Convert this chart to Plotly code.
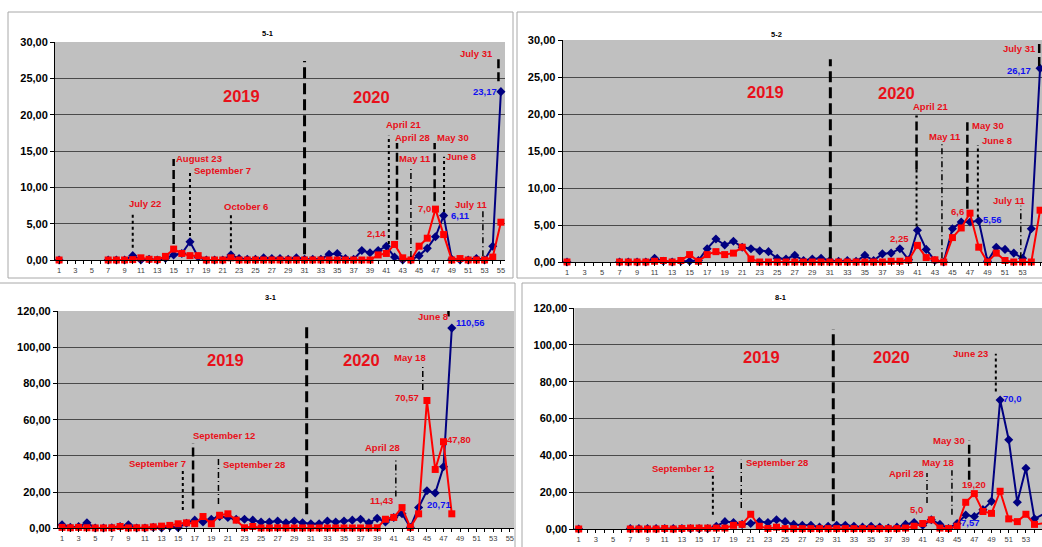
import plotly.graph_objects as go

W, H = 1042, 547
N = None
weeks = list(range(1, 56))
tick_weeks = list(range(1, 56, 2))

# ---- panel 5-1 ----
red_5_1 = [0, N, N, N, N, N, 0, 0, 0, 0.05,
           0.3, 0.1, 0.05, 0.5, 1.5, 0.9, 0.6, 0.6, 0, 0,
           0, 0.3, 0, 0, 0, 0, 0, 0, 0, 0,
           0, 0, 0, 0, 0, 0, 0, 0, 0, 0.7,
           0.9, 2.14, 0.3, 0, 1.9, 3.0, 7.0, 3.5, 0, 0.2,
           0, 0, 0, 0.4, 5.2]
blue_5_1 = [0, N, N, N, N, N, 0, 0, 0, 0.6,
            0, 0.1, 0, 0.2, 0.7, 0.9, 2.5, 0.4, 0, 0,
            0, 0.7, 0.2, 0.1, 0.1, 0.3, 0.2, 0.2, 0.1, 0.3,
            0.1, 0.1, 0.1, 0.8, 0.9, 0.2, 0.1, 1.3, 1.0, 1.3,
            1.9, 0.4, 0, 0, 0.6, 1.6, 3.2, 6.11, 0.1, 0,
            0, 0.2, 0, 1.9, 23.17]

# ---- panel 5-2 ----
red_5_2 = [0, N, N, N, N, N, 0, 0, 0, 0,
           0.1, 0.2, 0, 0.2, 1.0, 0.1, 1.0, 1.4, 1.0, 1.2,
           2.0, 0.4, 0, 0, 0, 0, 0, 0, 0, 0,
           0, 0, 0, 0, 0, 0, 0, 0.1, 0.1, 0.25,
           2.25, 0.6, 0.3, 0, 3.3, 4.6, 6.6, 2.0, 0, 1.2,
           0.2, 0, 0, 0, 7.0]
blue_5_2 = [0, N, N, N, N, N, 0, 0, 0, 0,
            0.5, 0.1, 0, 0.1, 0.1, 0.2, 1.8, 3.1, 2.3, 2.8,
            2.0, 1.8, 1.5, 1.4, 0.5, 0.4, 0.9, 0.2, 0.4, 0.5,
            0.2, 0.1, 0.2, 0.1, 0.9, 0.2, 1.1, 1.2, 1.8, 0.3,
            4.3, 1.7, 0.2, 0, 4.5, 5.4, 5.4, 5.56, 0.1, 2.0,
            1.7, 1.2, 0.5, 4.5, 26.17]

# ---- panel 3-1 ----
red_3_1 = [0.5, 0.3, 0.5, 0.3, 0.2, 0.2, 0.3, 1.0, 0.2, 0.3,
           0.3, 0.8, 1.2, 1.6, 2.5, 3.0, 2.5, 6.5, 2.5, 7.2,
           8.0, 4.5, 0.3, 1.0, 0.2, 0.2, 0.3, 0.2, 0.2, 0.2,
           0.2, 0.2, 0.2, 0.2, 0.2, 0.2, 0.2, 0.2, 0.3, 5.0,
           6.0, 11.43, 0.5, 8.0, 70.57, 32.5, 47.80, 8.0, N, N,
           N, N, N, N, N]
blue_3_1 = [2.0, 0.5, 1.0, 3.0, 0.2, 0.2, 0.3, 1.0, 2.0, 0.2,
            0.2, 0.5, 0.2, 1.0, 0.3, 2.8, 4.5, 3.5, 5.0, 6.5,
            6.0, 5.0, 5.0, 4.5, 3.5, 3.5, 4.0, 3.0, 4.0, 3.0,
            2.5, 2.5, 4.0, 3.5, 4.0, 4.5, 5.0, 3.0, 5.5, 3.5,
            6.0, 8.0, 0.5, 11.5, 20.71, 19.5, 34.0, 110.56, N, N,
            N, N, N, N, N]

# ---- panel 8-1 ----
red_8_1 = [0, N, N, N, N, N, 0, 0, 0, 0,
           0.3, 0, 0.3, 0.5, 0.5, 0.5, 0.5, 0.5, 2.0, 2.5,
           8.0, 1.5, 0.3, 1.0, 0.2, 0.2, 0.2, 0.2, 0.2, 0.2,
           0.2, 0.2, 0.2, 0.2, 0.2, 0.2, 0.2, 0.2, 0.5, 1.5,
           3.0, 5.0, 0.5, 0.3, 1.5, 14.5, 19.20, 9.5, 8.5, 20.5,
           5.5, 4.0, 8.0, 2.5, 3.0]
blue_8_1 = [0, N, N, N, N, N, 0.2, 0.2, 0.2, 0.2,
            0.2, 0.2, 0.2, 0.2, 0.2, 0.2, 1.5, 4.0, 3.5, 2.5,
            3.0, 4.0, 3.5, 5.0, 4.0, 2.5, 2.0, 2.0, 1.0, 1.5,
            2.0, 2.0, 1.5, 1.0, 1.5, 1.0, 0.5, 1.0, 2.5, 3.5,
            2.0, 5.0, 2.5, 0.3, 3.0, 7.57, 6.8, 10.5, 15.0, 70.0,
            48.5, 14.5, 33.0, 5.5, 8.0]

titles = ["5-1", "5-2", "3-1", "8-1"]
y_max = [30, 30, 120, 120]
y_step = [5, 5, 20, 20]

# event markers: (week position, y from, y to, style)
marks_5_1 = [(10, 1.7, 6.5, "dot"), (15, 2.2, 13.9, "dash"), (17, 3.3, 12.0, "dot"),
             (22, 1.6, 6.4, "dot"), (31, 0.8, 27.4, "div"), (41.3, 2.2, 17.1, "dot"),
             (42.3, 2.8, 16.1, "dash"), (44.0, 0.4, 12.8, "dashdot"), (46.9, 8.1, 16.1, "dash"),
             (48.05, 6.6, 14.2, "dot"), (52.8, 0.5, 6.8, "dashdot"), (54.7, 24.6, 28.0, "dash")]
marks_5_2 = [(31.06, 0.5, 27.4, "div"), (40.9, 12.5, 19.8, "dash"), (40.9, 4.8, 12.5, "dot"),
             (43.8, 0.5, 16.0, "dashdot"), (46.7, 7.2, 18.9, "dash"), (47.9, 6.0, 15.8, "dot"),
             (52.8, 0.5, 7.6, "dashdot"), (54.9, 26.5, 30, "dash")]
marks_3_1 = [(15.56, 10.1, 32.6, "dot"), (16.8, 11, 46.9, "dash"), (19.86, 13.4, 39.6, "dashdot"),
             (30.5, 7.7, 113.7, "div"), (41.25, 17.5, 38.7, "dashdot"), (44.5, 76.4, 89.6, "dashdot"),
             (47.6, 117, 121, "dash")]
marks_8_1 = [(16.6, 7.8, 30.4, "dot"), (19.9, 11.4, 37.6, "dashdot"), (30.6, 4.2, 108.6, "div"),
             (41.5, 14.1, 30.4, "dashdot"), (44.4, 7.8, 31.9, "dashdot"), (46.4, 26.8, 48.0, "dash"),
             (49.5, 74.7, 95.2, "dot")]

# text labels: (text, x, y, kind)
labels_5_1 = [("July 22", 11.5, 7.8, "r"), ("August 23", 18.1, 13.95, "r"), ("September 7", 21.0, 12.3, "r"),
              ("October 6", 23.9, 7.3, "r"), ("April 21", 43.2, 18.7, "r"), ("April 28", 44.2, 16.8, "r"),
              ("May 11", 44.5, 14.0, "r"), ("May 30", 49.2, 16.8, "r"), ("June 8", 50.1, 14.3, "r"),
              ("July 11", 51.4, 7.7, "r"), ("July 31", 52.0, 28.4, "r"), ("2,14", 39.8, 3.7, "r"),
              ("7,0", 45.6, 7.1, "r"), ("6,11", 50.0, 6.1, "b"), ("23,17", 53.1, 23.2, "b"),
              ("2019", 23.3, 22.6, "y"), ("2020", 39.2, 22.5, "y")]
labels_5_2 = [("April 21", 42.5, 21.0, "r"), ("May 11", 44.1, 16.9, "r"), ("May 30", 49.0, 18.5, "r"),
              ("June 8", 50.05, 16.4, "r"), ("July 11", 51.5, 8.3, "r"), ("July 31", 52.6, 28.9, "r"),
              ("6,6", 45.6, 6.8, "r"), ("2,25", 38.9, 3.15, "r"), ("26,17", 52.6, 25.9, "b"),
              ("5,56", 49.55, 5.8, "b"), ("2019", 23.7, 23.0, "y"), ("2020", 38.6, 22.8, "y")]
labels_3_1 = [("September 7", 12.5, 35.9, "r"), ("September 12", 20.5, 51.4, "r"),
              ("September 28", 24.2, 35.3, "r"), ("April 28", 39.7, 44.7, "r"), ("May 18", 43.0, 94.6, "r"),
              ("June 8", 45.7, 116.9, "r"), ("70,57", 42.65, 72.3, "r"), ("47,80", 48.9, 49.1, "r"),
              ("11,43", 39.5, 15.1, "r"), ("110,56", 50.3, 113.7, "b"), ("20,71", 46.5, 13.4, "b"),
              ("2019", 20.7, 92.8, "y"), ("2020", 37.15, 93.0, "y")]
labels_8_1 = [("September 12", 13.1, 33.1, "r"), ("September 28", 24.1, 36.2, "r"),
              ("April 28", 39.1, 30.4, "r"), ("May 18", 42.8, 36.2, "r"), ("May 30", 44.0, 48.0, "r"),
              ("June 23", 46.6, 95.4, "r"), ("19,20", 47.0, 24.1, "r"), ("5,0", 40.3, 10.5, "r"),
              ("70,0", 51.4, 70.6, "b"), ("7,57", 46.5, 3.6, "b"),
              ("2019", 22.3, 93.4, "y"), ("2020", 37.4, 93.4, "y")]

panels = [
    dict(red=red_5_1, blue=blue_5_1, marks=marks_5_1, labels=labels_5_1,
         px=(55, 505), py=(42, 260), xr=(0.5, 55.5), title_px=(260, 27), frame=(8, 12, 513, 278)),
    dict(red=red_5_2, blue=blue_5_2, marks=marks_5_2, labels=labels_5_2,
         px=(562.6, 1042), py=(40, 262), xr=(0.5, 55.22), title_px=(784, 28), frame=(517, 12, 1046, 278)),
    dict(red=red_3_1, blue=blue_3_1, marks=marks_3_1, labels=labels_3_1,
         px=(57.9, 514), py=(311, 528.3), xr=(0.5, 55.5), title_px=(263, 297), frame=(-2, 283, 515, 549)),
    dict(red=red_8_1, blue=blue_8_1, marks=marks_8_1, labels=labels_8_1,
         px=(574.4, 1042), py=(308, 529), xr=(0.5, 54.87), title_px=(788, 297), frame=(522, 283, 1046, 549)),
]

FONT = "Arial, Liberation Sans, sans-serif"
RED_T = "#E8101A"
BLUE_T = "#1010F0"
styles = {
    "dot": dict(dash="dot", width=2),
    "dash": dict(dash="9px,4px", width=2.5),
    "dashdot": dict(dash="6px,3px,1px,3px", width=1.5),
    "div": dict(dash="11px,5px", width=3),
}

fig = go.Figure()
layout = dict(width=W, height=H, margin=dict(l=0, r=0, t=0, b=0, autoexpand=False),
              paper_bgcolor="white", plot_bgcolor="#C0C0C0", showlegend=False,
              shapes=[], annotations=[])


def fmt(v):
    return f"{v:.2f}".replace(".", ",")


for i, p in enumerate(panels):
    k = "" if i == 0 else str(i + 1)
    xa, ya = "x" + k, "y" + k
    fig.add_trace(go.Scatter(x=weeks, y=p["blue"], xaxis=xa, yaxis=ya, mode="lines+markers",
                             line=dict(color="#000080", width=2),
                             marker=dict(symbol="diamond", size=7, color="#000080"),
                             connectgaps=False, cliponaxis=False))
    fig.add_trace(go.Scatter(x=weeks, y=p["red"], xaxis=xa, yaxis=ya, mode="lines+markers",
                             line=dict(color="#FF0000", width=2),
                             marker=dict(symbol="square", size=7, color="#FF0000"),
                             connectgaps=False, cliponaxis=False))
    ymax, ystep = y_max[i], y_step[i]
    yt = list(range(0, ymax + 1, ystep))
    layout["xaxis" + k] = dict(domain=[p["px"][0] / W, p["px"][1] / W], anchor=ya,
                               range=list(p["xr"]), tickmode="array", tickvals=tick_weeks,
                               ticktext=[str(t) for t in tick_weeks],
                               tickfont=dict(family=FONT, size=7.5, color="#404040"),
                               ticks="outside", ticklen=3, tickcolor="black",
                               minor=dict(tickmode="linear", tick0=0, dtick=1, ticks="outside",
                                          ticklen=3, tickcolor="black", showgrid=False),
                               showgrid=False, zeroline=False, showline=True, automargin=False,
                               linecolor="black", linewidth=1, fixedrange=True)
    layout["yaxis" + k] = dict(domain=[1 - p["py"][1] / H, 1 - p["py"][0] / H], anchor=xa,
                               range=[0, ymax], tickmode="array", tickvals=yt,
                               ticktext=[fmt(v) for v in yt], automargin=False,
                               tickfont=dict(family=FONT, size=11, color="black", weight="bold"),
                               ticks="outside", ticklen=4, tickcolor="black",
                               showgrid=True, gridcolor="#4A4A4A", gridwidth=1,
                               zeroline=False, showline=True, linecolor="black", linewidth=1,
                               fixedrange=True)
    # frame
    fx0, fy0, fx1, fy1 = p["frame"]
    layout["shapes"].append(dict(type="rect", xref="paper", yref="paper", x0=fx0 / W, x1=fx1 / W,
                                 y0=1 - fy1 / H, y1=1 - fy0 / H,
                                 line=dict(color="#A8A8A8", width=1), layer="below"))
    # event lines
    for (xm, y0, y1, st) in p["marks"]:
        layout["shapes"].append(dict(type="line", xref=xa, yref=ya, x0=xm, x1=xm, y0=y0, y1=y1,
                                     line=dict(color="black", **styles[st])))
    # labels
    for (txt, lx, ly, kind) in p["labels"]:
        if kind == "y":
            f = dict(family=FONT, size=16.5, color=RED_T, weight="bold")
        elif kind == "b":
            f = dict(family=FONT, size=9.5, color=BLUE_T, weight="bold")
        else:
            f = dict(family=FONT, size=9.5, color=RED_T, weight="bold")
        layout["annotations"].append(dict(text=txt, x=lx, y=ly, xref=xa, yref=ya,
                                          showarrow=False, font=f))
    tx, ty = p["title_px"]
    layout["annotations"].append(dict(text=titles[i], x=tx / W, y=1 - ty / H, xref="paper", yref="paper",
                                      showarrow=False,
                                      font=dict(family=FONT, size=7.5, color="black", weight="bold")))

fig.update_layout(**layout)
fig.write_html("out.html", config={"displayModeBar": False},
               post_script="document.body.style.margin='0px';document.body.style.overflow='hidden';")
